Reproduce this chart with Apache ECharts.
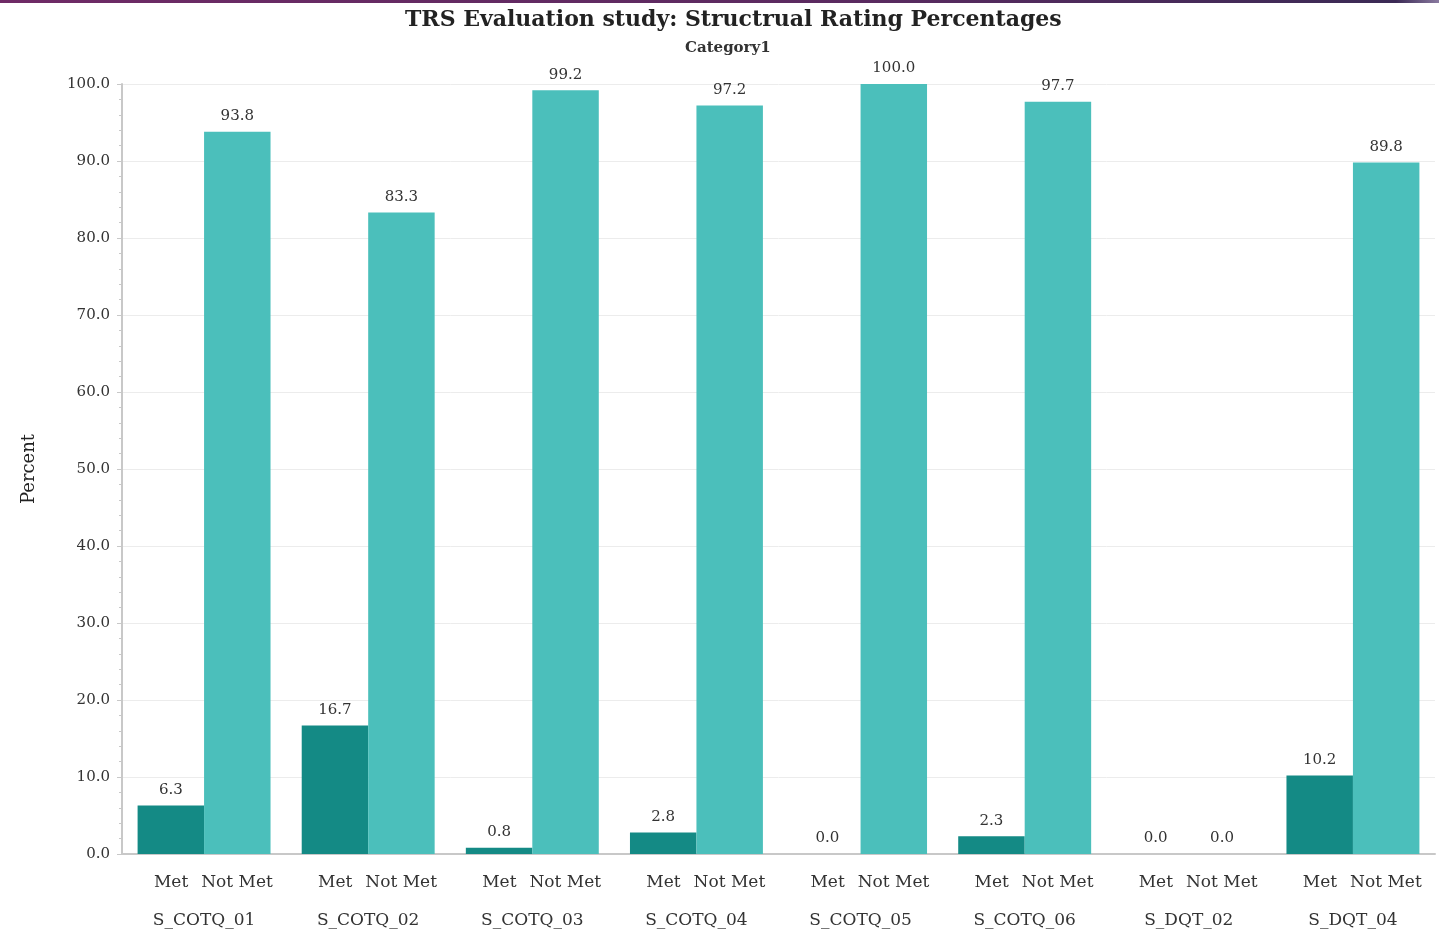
<!DOCTYPE html>
<html><head><meta charset="utf-8">
<script src="https://cdn.jsdelivr.net/npm/echarts@6/dist/echarts.min.js"></script>
<style>html,body{margin:0;padding:0;background:#fff}#c{width:1439px;height:933px}</style>
</head><body><div id="c"></div>
<script>
const categories = ['S_COTQ_01','S_COTQ_02','S_COTQ_03','S_COTQ_04','S_COTQ_05','S_COTQ_06','S_DQT_02','S_DQT_04'];
const metValues = [6.3, 16.7, 0.8, 2.8, 0.0, 2.3, 0.0, 10.2];
const notMetValues = [93.8, 83.3, 99.2, 97.2, 100.0, 97.7, 0.0, 89.8];
const seriesNames = ['Met', 'Not Met'];

const FONT = '"DejaVu Serif", "Liberation Serif", serif';
const chart = echarts.init(document.getElementById('c'));
const lbl = {show:true, position:'top', distance:8, color:'#333', fontFamily:FONT, fontSize:15,
  formatter: p => Number(p.value).toFixed(1)};
chart.setOption({
  animation:false,
  graphic:[{type:'rect', left:0, top:0, shape:{width:1439, height:3},
    style:{fill:new echarts.graphic.LinearGradient(0,0,1,0,[{offset:0,color:'#6f2a66'},{offset:0.6,color:'#5a2a60'},{offset:0.97,color:'#3b2a55'},{offset:1,color:'#8a7aa0'}])}}],
  title:[
    {text:'TRS Evaluation study: Structrual Rating Percentages', left:400, top:4,
      textStyle:{fontFamily:FONT, fontSize:22, fontWeight:'bold', color:'#222'}},
    {text:'Category1', left:680, top:36,
      textStyle:{fontFamily:FONT, fontSize:15, fontWeight:'bold', color:'#333'}}
  ],
  grid:{left:122, right:4, top:84, bottom:79},
  xAxis:{type:'category', data:categories,
    axisLine:{lineStyle:{color:'#c8c8c8', width:2}}, axisTick:{show:false},
    axisLabel:{margin:19, interval:0, fontFamily:FONT, color:'#333', fontSize:17,
      formatter: v => '{m|' + seriesNames[0] + '}{n|' + seriesNames[1] + '}\n{g|' + v + '}',
      rich:{m:{width:66, align:'center', lineHeight:20, fontFamily:FONT, fontSize:17, color:'#333'},
            n:{width:66, align:'center', lineHeight:20, fontFamily:FONT, fontSize:17, color:'#333'},
            g:{lineHeight:56, fontFamily:FONT, fontSize:17, color:'#333'}}}},
  yAxis:{type:'value', min:0, max:100, interval:10, name:'Percent', nameLocation:'middle', nameGap:84,
    nameTextStyle:{fontFamily:FONT, fontSize:18, color:'#222'},
    axisLine:{show:true, lineStyle:{color:'#c8c8c8', width:2}},
    axisTick:{show:true, length:5, lineStyle:{color:'#c8c8c8'}},
    minorTick:{show:true, splitNumber:5, length:3, lineStyle:{color:'#c8c8c8'}},
    splitLine:{lineStyle:{color:'#ececec'}},
    axisLabel:{margin:12, fontFamily:FONT, fontSize:15, color:'#333', formatter: v => v.toFixed(1)}},
  series:[
    {name:seriesNames[0], type:'bar', data:metValues, barGap:'0%', barCategoryGap:'19%',
      itemStyle:{color:'#148a85'}, label:lbl},
    {name:seriesNames[1], type:'bar', data:notMetValues, barGap:'0%', barCategoryGap:'19%',
      itemStyle:{color:'#4bbfbb'}, label:lbl}
  ]
});
</script></body></html>
